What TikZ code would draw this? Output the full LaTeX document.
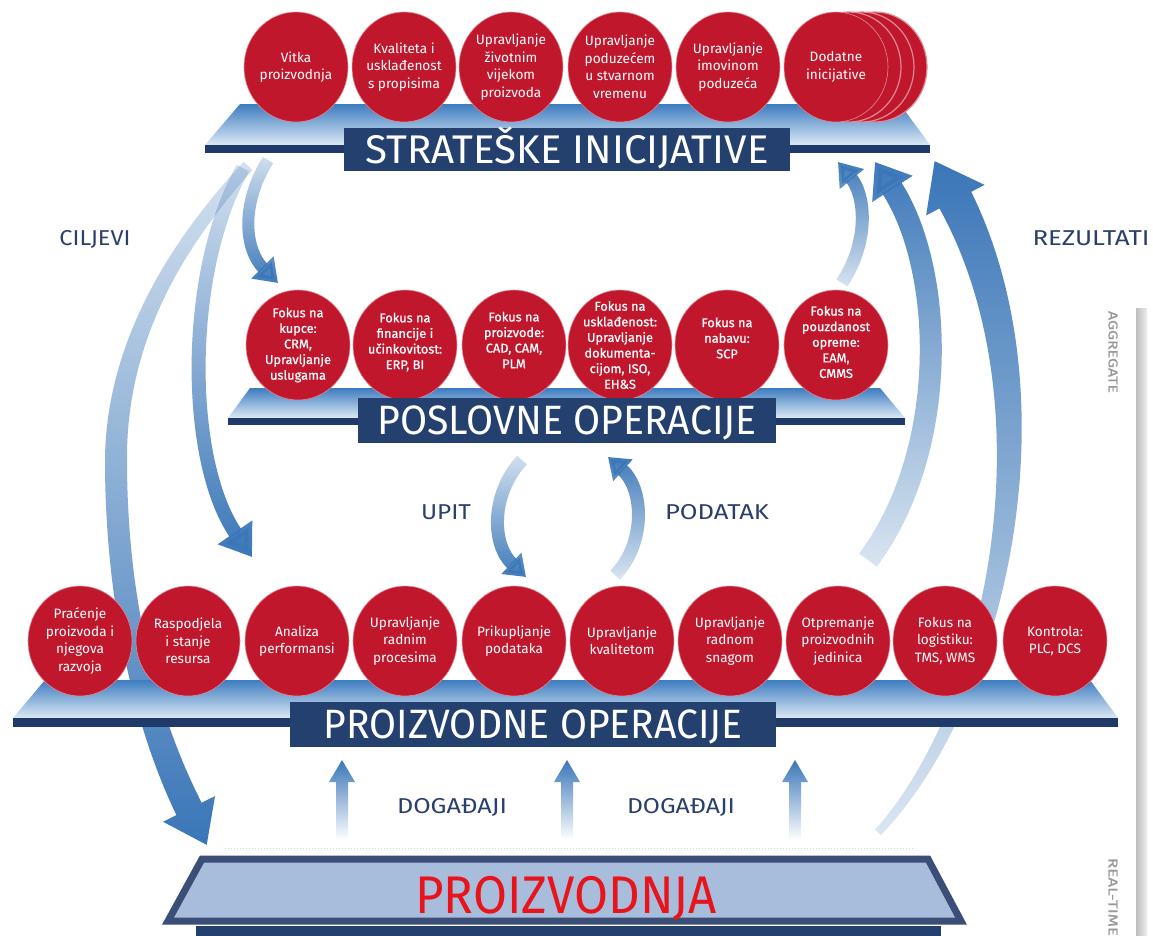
\documentclass[tikz,border=0pt]{standalone}
\usepackage{fontspec}
\setmainfont{Fira Sans}
\newfontfamily\medfont[FakeBold=0.7]{Fira Sans}
\usepackage{graphicx}
\usetikzlibrary{arrows.meta,shapes.geometric,fadings,calc}

\definecolor{cred}{HTML}{C0172D}
\definecolor{credline}{HTML}{E08A95}
\definecolor{cnavy}{HTML}{23406E}
\definecolor{cstrip}{HTML}{1F3A69}
\definecolor{cblue}{HTML}{3A76B8}
\definecolor{cplateT}{HTML}{3D7CC0}
\definecolor{cplateB}{HTML}{DCE9F5}
\definecolor{clabel}{HTML}{2B3F6C}
\definecolor{cprod}{HTML}{A8BDDB}
\definecolor{cprodline}{HTML}{3A4E77}
\definecolor{cprodtext}{HTML}{E8141C}

\tikzfading[name=fadeheaddown, top color=transparent!78, bottom color=transparent!0]
\tikzfading[name=fadeheadup, top color=transparent!0, bottom color=transparent!82]

\newcommand{\mytitle}[3]{\resizebox{#2}{\height}{\fontsize{#1}{#1}\selectfont #3}}

\tikzset{
  redc/.style={ellipse, minimum width=104pt, minimum height=110pt, inner sep=0pt,
    fill=cred, draw=credline, line width=0.6pt},
  stackc/.style={ellipse, minimum width=104pt, minimum height=110pt, inner sep=0pt,
    fill=cred, draw=credline, line width=1.2pt},
  ctxt/.style={text=white, align=center, inner sep=0pt, font=\fontsize{13.6}{17.5}\selectfont},
  mtxt/.style={text=white, align=center, inner sep=0pt, font=\medfont\fontsize{12.8}{15.6}\selectfont},
  titlebox/.style={fill=cnavy, text=white, inner sep=0pt, text depth=0pt},
  lbl/.style={text=clabel, inner sep=0pt, text height=14.8pt, text depth=0pt},
  vlbl/.style={text=gray!80, inner sep=0pt, rotate=-90, font=\medfont},
  arrdown/.style={draw=cblue, path fading=fadeheaddown},
  arrup/.style={draw=cblue, path fading=fadeheadup},
  banddown/.style={fill=cblue, path fading=fadeheaddown},
  bandup/.style={fill=cblue, path fading=fadeheadup},
  plate/.style={top color=cplateT, bottom color=cplateB},
  evshade/.style={top color=cblue, bottom color=white},
}

\begin{document}
\begin{tikzpicture}[x=1pt, y=-1pt]
\useasboundingbox (0,0) rectangle (1153,935);
\fill[white] (0,0) rectangle (1153,935);

% ---------- right scale bar ----------
\path[left color=gray!50, right color=gray!15] (1136,308) rectangle (1147,935);
\node[vlbl] (agg) at (1113,352) {\mytitle{13}{82pt}{AGGREGATE}};
\node[vlbl] (rt) at (1113,897) {\mytitle{13}{78pt}{REAL-TIME}};

% ---------- labels ----------
\node[lbl] (ciljevi) at (95,238) {\mytitle{21.5}{71pt}{CILJEVI}};
\node[lbl] (rezultati) at (1091,238) {\mytitle{21.5}{117pt}{REZULTATI}};
\node[lbl] (upit) at (446,512) {\mytitle{21.5}{50pt}{UPIT}};
\node[lbl] (podatak) at (717,512) {\mytitle{21.5}{104pt}{PODATAK}};
\node[lbl] (dog1) at (452,806) {\mytitle{21.5}{110pt}{DOGAĐAJI}};
\node[lbl] (dog2) at (681,806) {\mytitle{21.5}{108pt}{DOGAĐAJI}};

% ---------- arrow end points ----------
\coordinate (l1s) at (268,160);  \coordinate (l1e) at (278,283);
\coordinate (l2s) at (243,168);  \coordinate (l2e) at (252,557);
\coordinate (l3s) at (248,166);  \coordinate (l3e) at (206.7,844.9);
\coordinate (r1s) at (842,283);  \coordinate (r1e) at (838,162);
\coordinate (r2s) at (868,560);  \coordinate (r2e) at (875,162);
\coordinate (r3s) at (878,832);  \coordinate (r3e) at (934.6,160);
\coordinate (us) at (522,460);   \coordinate (ue) at (526,577);
\coordinate (ps) at (615,575);   \coordinate (pe) at (608,457);

% ---------- big tapered arrows ----------
% left: goals down to production
\path[banddown] (243.6,162) .. controls (184.8,225.3) and (106,330) .. (105,460)
  .. controls (105,600) and (133.3,725.8) .. (176.4,815.2)
  -- (163,821.8) -- (l3e) -- (215,796.2) -- (201.6,802.8)
  .. controls (156.7,714.2) and (127,600) .. (127,460)
  .. controls (126,330) and (195.2,234.7) .. (252.4,170) -- cycle;
% right: results from production up to strategy
\path[bandup] (880.9,834.7) .. controls (1007.6,702.5) and (1074,399.6) .. (971.2,190.7)
  -- (984.5,183.7) -- (r3e) -- (926.1,214.3) -- (939.4,207.3)
  .. controls (1046,400.4) and (992.4,697.5) .. (875.1,829.3) -- cycle;

% ---------- curved arrows ----------
\draw[arrdown, line width=14pt, -{Triangle[width=40pt,length=30pt]}]
  (l2s) .. controls (185,270) and (185,460) .. (l2e);
\draw[arrdown, line width=12pt, -{Triangle[width=30pt,length=22pt]}]
  (l1s) .. controls (240,205) and (245,250) .. (l1e);
\draw[arrup, line width=22pt, -{Triangle[width=46pt,length=32pt]}]
  (r2s) .. controls (950,450) and (945,270) .. (r2e);
\draw[arrup, line width=13pt, -{Triangle[width=30pt,length=22pt]}]
  (r1s) .. controls (870,240) and (865,195) .. (r1e);
\draw[arrdown, line width=13pt, -{Triangle[width=28pt,length=20pt]}]
  (us) .. controls (490,495) and (492,545) .. (ue);
\draw[arrup, line width=13pt, -{Triangle[width=28pt,length=20pt]}]
  (ps) .. controls (645,545) and (645,490) .. (pe);

% ---------- event arrows ----------
\coordinate (ev1) at (342,760);
\coordinate (ev2) at (567,760);
\coordinate (ev3) at (795,760);
\foreach \e in {ev1,ev2,ev3}{
  \path[evshade] (\e) -- ++(13,22) -- ++(-7,0) -- ++(0,58) -- ++(-12,0) -- ++(0,-58) -- ++(-7,0) -- cycle;
}

% ---------- plates ----------
\path[plate] (240,104) -- (900,104) -- (930,145) -- (205,145) -- cycle;
\fill[cstrip] (205,145) rectangle (930,153);
\path[plate] (250,388) -- (880,388) -- (905,418) -- (228,418) -- cycle;
\fill[cstrip] (228,418) rectangle (905,425);
\path[plate] (45,680) -- (1090,680) -- (1118,718) -- (13,718) -- cycle;
\fill[cstrip] (13,718) rectangle (1118,727);

% ---------- top circles ----------
\node[stackc] (s3) at (875,67) {};
\node[stackc] (s2) at (862,67) {};
\node[stackc] (s1) at (849,67) {};
\node[redc] (a1) at (296,67) {};
\node[redc] (a2) at (404,67) {};
\node[redc] (a3) at (511,67) {};
\node[redc] (a4) at (620,67) {};
\node[redc] (a5) at (728,67) {};
\node[redc] (a6) at (836,67) {};
\node[ctxt] (a1t) at (a1) {Vitka\\proizvodnja};
\node[ctxt] (a2t) at (a2) {Kvaliteta i\\usklađenost\\s propisima};
\node[ctxt] (a3t) at (a3) {Upravljanje\\životnim\\vijekom\\proizvoda};
\node[ctxt] (a4t) at (a4) {Upravljanje\\poduzećem\\u stvarnom\\vremenu};
\node[ctxt] (a5t) at (a5) {Upravljanje\\imovinom\\poduzeća};
\node[ctxt] (a6t) at (a6) {Dodatne\\inicijative};

% ---------- middle circles ----------
\node[redc] (b1) at (298,345) {};
\node[redc] (b2) at (405,345) {};
\node[redc] (b3) at (514,345) {};
\node[redc] (b4) at (620,345) {};
\node[redc] (b5) at (727,345) {};
\node[redc] (b6) at (836,345) {};
\node[mtxt] (b1t) at (b1) {Fokus na\\kupce:\\CRM,\\Upravljanje\\uslugama};
\node[mtxt] (b2t) at (405,342) {Fokus na\\financije i\\učinkovitost:\\ERP, BI};
\node[mtxt] (b3t) at (514,340) {Fokus na\\proizvode:\\CAD, CAM,\\PLM};
\node[mtxt] (b4t) at (b4) {Fokus na\\usklađenost:\\Upravljanje\\dokumenta-\\cijom, ISO,\\EH\&S};
\node[mtxt] (b5t) at (727,338) {Fokus na\\nabavu:\\SCP};
\node[mtxt] (b6t) at (836,342) {Fokus na\\pouzdanost\\opreme:\\EAM,\\CMMS};

% ---------- bottom circles ----------
\node[redc] (c1) at (80,641) {};
\node[redc] (c2) at (188,641) {};
\node[redc] (c3) at (297,641) {};
\node[redc] (c4) at (405,641) {};
\node[redc] (c5) at (514,641) {};
\node[redc] (c6) at (622,641) {};
\node[redc] (c7) at (730,641) {};
\node[redc] (c8) at (838,641) {};
\node[redc] (c9) at (945,641) {};
\node[redc] (c10) at (1055,641) {};
\node[ctxt] (c1t) at (c1) {Praćenje\\proizvoda i\\njegova\\razvoja};
\node[ctxt] (c2t) at (c2) {Raspodjela\\i stanje\\resursa};
\node[ctxt] (c3t) at (c3) {Analiza\\performansi};
\node[ctxt] (c4t) at (c4) {Upravljanje\\radnim\\procesima};
\node[ctxt] (c5t) at (c5) {Prikupljanje\\podataka};
\node[ctxt] (c6t) at (c6) {Upravljanje\\kvalitetom};
\node[ctxt] (c7t) at (c7) {Upravljanje\\radnom\\snagom};
\node[ctxt] (c8t) at (c8) {Otpremanje\\proizvodnih\\jedinica};
\node[ctxt] (c9t) at (c9) {Fokus na\\logistiku:\\TMS, WMS};
\node[ctxt] (c10t) at (c10) {Kontrola:\\PLC, DCS};

% ---------- title boxes ----------
\node[titlebox, minimum width=446pt, minimum height=43pt, text height=27.6pt] (strat) at (567,149.5)
  {\mytitle{40}{403pt}{STRATEŠKE INICIJATIVE}};
\node[titlebox, minimum width=418pt, minimum height=45pt, text height=28.3pt] (posl) at (567,420.5)
  {\mytitle{41}{379pt}{POSLOVNE OPERACIJE}};
\node[titlebox, minimum width=486pt, minimum height=45pt, text height=28.3pt] (proizop) at (533,724.5)
  {\mytitle{41}{419pt}{PROIZVODNE OPERACIJE}};

% ---------- production base ----------
\draw[gray!30, dotted, line width=1pt] (225,848) -- (915,848);
\path[fill=cprod, draw=cprodline, line width=7pt, line join=miter] (202,859) -- (928,859) -- (961,921) -- (168,921) -- cycle;
\fill[cnavy] (196,926) rectangle (941,940);
\node[text=cprodtext, inner sep=0pt, text height=37pt, text depth=0pt] (prod) at (566,895)
  {\mytitle{53}{302pt}{PROIZVODNJA}};
\end{tikzpicture}
\end{document}
